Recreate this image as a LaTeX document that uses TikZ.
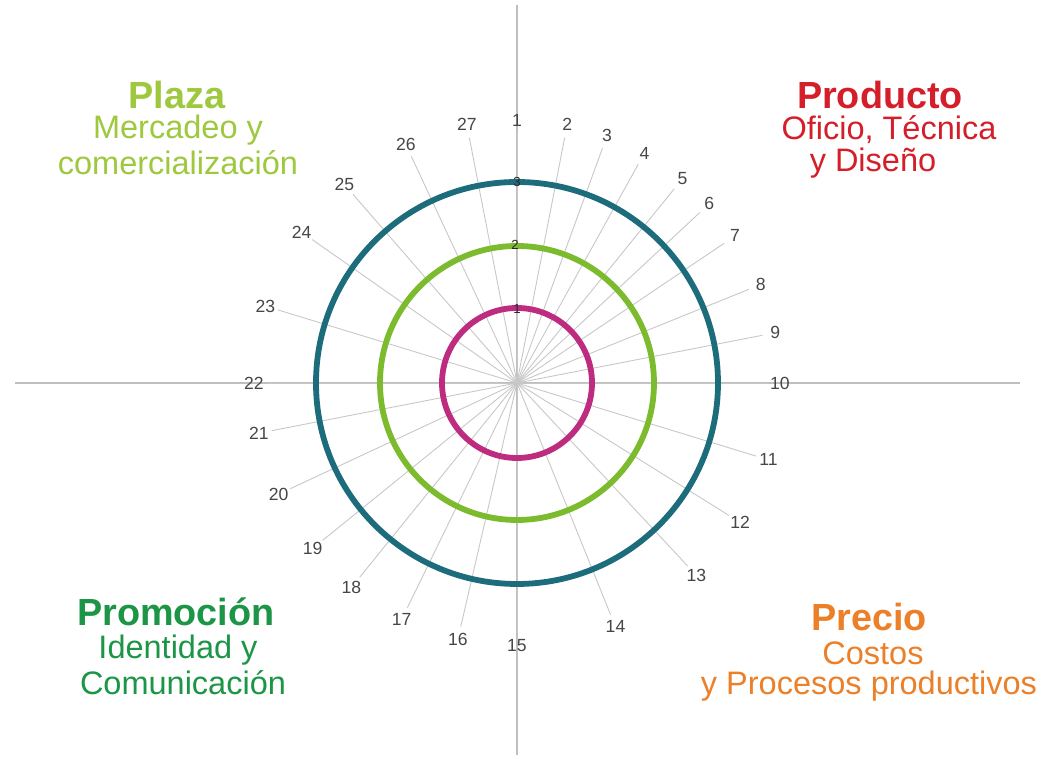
\documentclass[tikz,border=0pt]{standalone}
\usepackage{fontspec}
\setmainfont{Liberation Sans}
\definecolor{teal}{RGB}{28,108,124}
\definecolor{lime}{RGB}{124,186,46}
\definecolor{berry}{RGB}{190,44,128}
\definecolor{plazacol}{RGB}{158,200,62}
\definecolor{prodcol}{RGB}{212,30,42}
\definecolor{promcol}{RGB}{28,150,70}
\definecolor{preccol}{RGB}{236,128,40}
\definecolor{numcol}{RGB}{70,70,70}
\tikzset{
	spoke/.style={draw=black!22, line width=.5pt},
	axisline/.style={draw=black!25, line width=.6pt},
	ring/.style={line width=3.3pt},
	num/.style={text=numcol, font=\fontsize{10}{12}\selectfont, inner sep=0pt},
	tick/.style={text=black!85, font=\fontsize{7.5}{9}\selectfont, inner sep=0pt},
	title/.style={font=\bfseries\fontsize{21.5}{24}\selectfont, inner sep=0pt},
	sub/.style={font=\fontsize{18.5}{21}\selectfont, inner sep=0pt}
}
\begin{document}
\begin{tikzpicture}[x=0.02cm,y=0.02cm]
	\useasboundingbox[fill=white] (-517,-376) rectangle (532,383);
	\def\ra{75};
	\def\rb{137};
	\def\rc{201};

	% AXES
	\coordinate (c) at (0,0);
	\coordinate (w) at (-502,0);
	\coordinate (e) at (503,0);
	\coordinate (n) at (0,378);
	\coordinate (s) at (0,-372);
	\draw[axisline] (w) -- (e);
	\draw[axisline] (n) -- (s);

	% SPOKES AND NUMBERS
	\foreach \a [count=\i] in {90,79,70,61,51,43,34,22,11,0,-17,-32,-47,-68,-90,-103,-116,-129,-141,-155,-169,180,163,145,131,115,101} {
		\coordinate (s\i) at (\a:250);
		\draw[spoke] (c) -- (s\i);
		\node[num] (l\i) at (\a:263) {\i};
	}

	% RINGS
	\draw[ring, berry] (c) circle (\ra);
	\draw[ring, lime] (c) circle (\rb);
	\draw[ring, teal] (c) circle (\rc);
	\node[tick] (t1) at (0,\ra-1) {1};
	\node[tick] (t2) at (-2,\rb+1) {2};
	\node[tick] (t3) at (0,\rc) {3};

	% PLAZA
	\node[title, plazacol] (plaza) at (-340,288) {Plaza};
	\node[sub, plazacol] (plaza1) at (-339,253) {Mercadeo y};
	\node[sub, plazacol] (plaza2) at (-339,220) {comercialización};

	% PRODUCTO
	\node[title, prodcol] (prod) at (363,288) {Producto};
	\node[sub, prodcol] (prod1) at (372,253) {Oficio, Técnica};
	\node[sub, prodcol] (prod2) at (356,220) {y Diseño};

	% PROMOCION
	\node[title, promcol] (prom) at (-341,-229) {Promoción};
	\node[sub, promcol] (prom1) at (-339,-267) {Identidad y};
	\node[sub, promcol] (prom2) at (-334,-300) {Comunicación};

	% PRECIO
	\node[title, preccol] (prec) at (352,-234) {Precio};
	\node[sub, preccol] (prec1) at (356,-270) {Costos};
	\node[sub, preccol] (prec2) at (352,-303) {y Procesos productivos};
\end{tikzpicture}
\end{document}
